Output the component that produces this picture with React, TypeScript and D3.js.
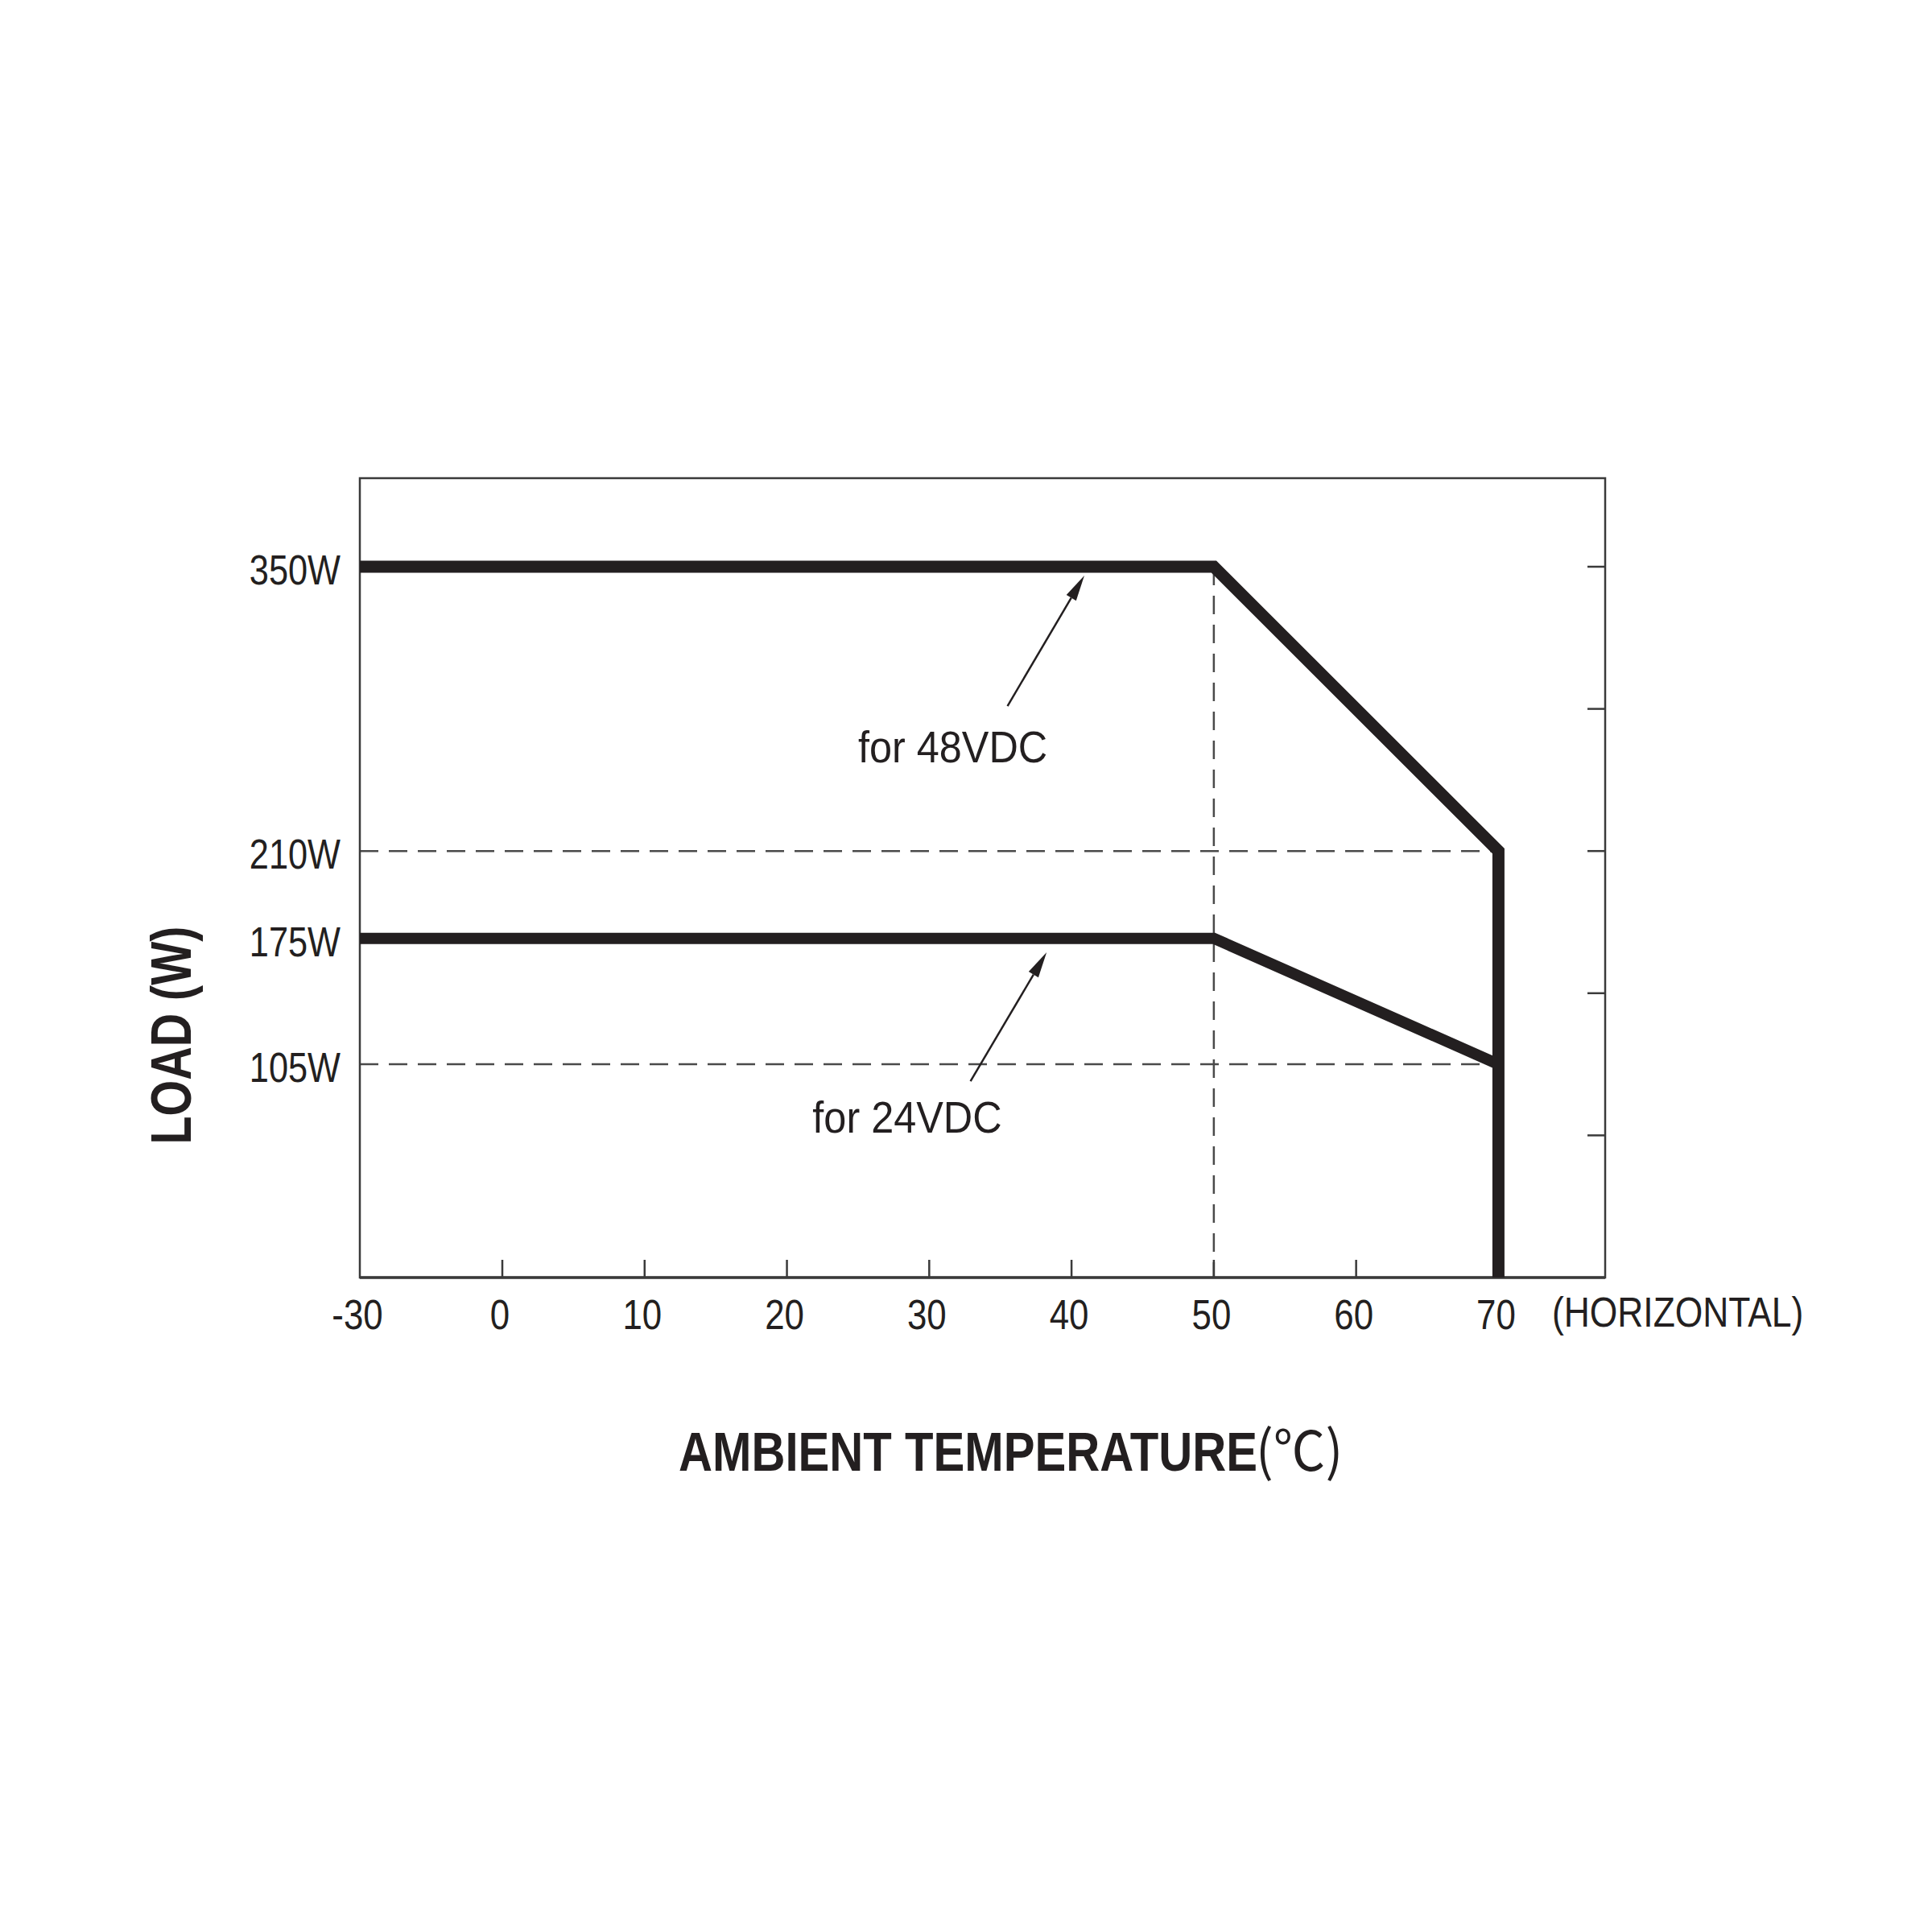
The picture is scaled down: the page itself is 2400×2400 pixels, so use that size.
import React from "react";
import * as d3 from "d3";

// ---- data ----
const temps48 = [-30, 50, 70, 70];
const loads48 = [350, 350, 210, 0];
const temps24 = [-30, 50, 70];
const loads24 = [167, 167, 105];
const xTickValues = [-30, 0, 10, 20, 30, 40, 50, 60, 70];
const xTickLabels = ["-30", "0", "10", "20", "30", "40", "50", "60", "70"];
const xTickMarks = [0, 10, 20, 30, 40, 50, 60];
const yLabelValues = [350, 210, 167, 105];
const yLabelTexts = ["350W", "210W", "175W", "105W"];
const rightTickValues = [70, 140, 210, 280, 350];
const guideLoads = [210, 105];
const guideTemp = 50;
const guideEndTemp = 70;
const annotationTexts = ["for 48VDC", "for 24VDC"];
const annotationTextPos = [[25.0, 253.7], [21.8, 71.3]];
const annotationTail = [[35.5, 281.4], [32.9, 96.7]];
const annotationTip = [[40.9, 345.6], [38.25, 160.1]];

const INK = "#231f20";
const FONT = "'Liberation Sans', Arial, sans-serif";

type CTProps = {
  x: number;
  y: number;
  sx?: number;
  anchor?: "start" | "middle" | "end";
  size: number;
  weight?: string;
  rotate?: number;
  family?: string;
  children: React.ReactNode;
};

function CText({ x, y, sx = 0.86, anchor = "start", size, weight = "normal", rotate = 0, family = FONT, children }: CTProps) {
  return (
    <g transform={`translate(${x},${y}) rotate(${rotate}) scale(${sx},1)`}>
      <text x={0} y={0} textAnchor={anchor} fontSize={size} fontWeight={weight} fontFamily={family} fill={INK}>
        {children}
      </text>
    </g>
  );
}

export default function App() {
  const left = 447, right = 1994, top = 594, bottom = 1587;
  const x = d3.scaleLinear().domain([-30, 0, 77.5]).range([left, 624, right]);
  const y = d3.scaleLinear().domain([0, 350]).range([bottom, 704]);

  const line = d3
    .line<[number, number]>()
    .x((d) => x(d[0]))
    .y((d) => y(d[1]));

  const pts48 = temps48.map((t, i) => [t, loads48[i]] as [number, number]);
  const pts24 = temps24.map((t, i) => [t, loads24[i]] as [number, number]);

  const arrowHead = (tip: number[], tail: number[]) => {
    const tx = x(tip[0]), ty = y(tip[1]);
    const sx = x(tail[0]), sy = y(tail[1]);
    const dx = tx - sx, dy = ty - sy;
    const len = Math.hypot(dx, dy);
    const ux = dx / len, uy = dy / len;
    const hl = 32, hw = 7;
    const bx = tx - ux * hl, by = ty - uy * hl;
    return {
      poly: `${tx},${ty} ${bx - uy * hw},${by + ux * hw} ${bx + uy * hw},${by - ux * hw}`,
      bx, by, sx, sy,
    };
  };

  return (
    <svg
      width={2400}
      height={2400}
      style={{ position: "absolute", left: 0, top: 0, background: "#fff" }}
      fontFamily={FONT}
    >
      <rect x={0} y={0} width={2400} height={2400} fill="#fff" />
      {/* guides */}
      {guideLoads.map((v) => (
        <line
          key={"g" + v}
          x1={left}
          x2={x(guideEndTemp)}
          y1={y(v)}
          y2={y(v)}
          stroke="#4a4a4a"
          strokeWidth={2.5}
          strokeDasharray="23 13"
        />
      ))}
      <line
        x1={x(guideTemp)}
        x2={x(guideTemp)}
        y1={y(350)}
        y2={bottom}
        stroke="#4a4a4a"
        strokeWidth={2.5}
        strokeDasharray="23 13"
      />
      {/* frame */}
      <rect x={left} y={top} width={right - left} height={bottom - top} fill="none" stroke="#3a3a3a" strokeWidth={2.5} />
      <line x1={left} x2={right} y1={bottom} y2={bottom} stroke="#3a3a3a" strokeWidth={3.5} />
      {/* bottom ticks */}
      {xTickMarks.map((t) => (
        <line key={"xt" + t} x1={x(t)} x2={x(t)} y1={bottom} y2={bottom - 22} stroke="#3a3a3a" strokeWidth={2.5} />
      ))}
      {/* right ticks */}
      {rightTickValues.map((v) => (
        <line key={"rt" + v} x1={right} x2={right - 22} y1={y(v)} y2={y(v)} stroke="#3a3a3a" strokeWidth={2.5} />
      ))}
      {/* curves */}
      <path d={line(pts24) || ""} fill="none" stroke={INK} strokeWidth={14} strokeLinejoin="miter" />
      <path d={line(pts48) || ""} fill="none" stroke={INK} strokeWidth={15} strokeLinejoin="miter" />
      {/* annotations */}
      {annotationTexts.map((txt, i) => {
        const a = arrowHead(annotationTip[i], annotationTail[i]);
        return (
          <g key={"an" + i}>
            <line x1={a.sx} y1={a.sy} x2={a.bx} y2={a.by} stroke={INK} strokeWidth={2.5} />
            <polygon points={a.poly} fill={INK} />
            <CText x={x(annotationTextPos[i][0])} y={y(annotationTextPos[i][1])} size={56} sx={0.9}>
              {txt}
            </CText>
          </g>
        );
      })}
      {/* y labels */}
      {yLabelValues.map((v, i) => (
        <CText key={"yl" + i} x={423} y={y(v) + 22} anchor="end" size={51} sx={0.85}>
          {yLabelTexts[i]}
        </CText>
      ))}
      {/* x labels */}
      {xTickValues.map((t, i) => (
        <CText key={"xl" + i} x={x(t) - 3} y={1651} anchor="middle" size={51} sx={0.86}>
          {xTickLabels[i]}
        </CText>
      ))}
      <CText x={1928} y={1648} size={51} sx={0.87}>
        (HORIZONTAL)
      </CText>
      {/* axis titles */}
      <CText x={237} y={1286} rotate={-90} anchor="middle" size={70} weight="bold" sx={0.82}>
        LOAD (W)
      </CText>
      <CText x={843} y={1827} size={68} weight="bold" sx={0.855}>
        AMBIENT TEMPERATURE
      </CText>
      <CText x={1560} y={1827} size={68} sx={0.95} family="'Noto Sans CJK SC', sans-serif">
        (℃)
      </CText>
    </svg>
  );
}
